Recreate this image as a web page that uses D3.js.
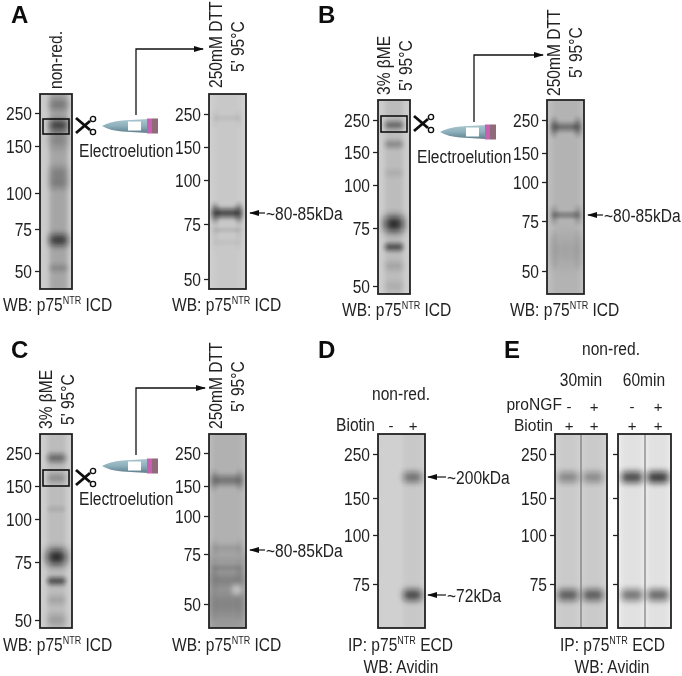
<!DOCTYPE html>
<html>
<head>
<meta charset="utf-8">
<script src="https://cdn.jsdelivr.net/npm/d3@7"></script>
<style>
  body { margin: 0; background: #fff; }
  text { font-family: "Liberation Sans", Arial, sans-serif; fill: #222; }
</style>
</head>
<body>
<svg id="chart"></svg>
<script>
// Marker ticks (kDa)
const ticksFive = [250, 150, 100, 75, 50];
const ticksFour = [250, 150, 100, 75];

const kdaA1 = [285, 207, 165, 119, 109, 67.5, 51.5];
const levelA1 = [0.3, 0.68, 0.22, 0.24, 0.28, 0.7, 0.18];
const kdaA2 = [235, 80.6, 71.8, 65.6];
const levelA2 = [0.05, 0.68, 0.09, 0.04];
const kdaB1 = [231, 170, 116, 77, 65.7, 57.5, 50];
const levelB1 = [0.48, 0.28, 0.08, 0.9, 0.62, 0.13, 0.08];
const kdaB2 = [224, 78.4, 59];
const levelB2 = [0.42, 0.28, 0.1];
const kdaC1 = [231, 170, 113, 77.6, 65.7, 57.5, 50];
const levelC1 = [0.48, 0.26, 0.08, 0.9, 0.62, 0.13, 0.18];
const kdaC2 = [164, 78.5, 67, 60.6, 50];
const levelC2 = [0.36, 0.12, 0.12, 0.18, 0.16];
const kdaD = [191, 70.3];
const levelD = [0.48, 0.68];
const kdaE1 = [191, 70.3];
const levelE1 = [[0.36, 0.34], [0.58, 0.58]]; // rows: bands, columns: lanes
const kdaE2 = [191, 70.3];
const levelE2 = [[0.7, 0.78], [0.5, 0.56]];

// Blot geometry and look
const blots = [
  { x0: 40, x1: 72, y0: 94, y1: 289, tickY: [113, 146, 193, 229, 271], ticks: ticksFive, bg: "#cbcbcb", lanes: [58.5], laneW: 18, kda: kdaA1, level: kdaA1.map((_, i) => [levelA1[i]]), thick: [10, 10, 14, 11, 10, 11, 7], smear: 0.18 },
  { x0: 209, x1: 246, y0: 94, y1: 289, tickY: [114, 147, 180, 224, 279], ticks: ticksFive, bg: "#d0d0d0", lanes: [227], laneW: 28, kda: kdaA2, level: kdaA2.map((_, i) => [levelA2[i]]), thick: [5, 8, 4, 4], smear: 0.03, edge: 0.6 },
  { x0: 378, x1: 410, y0: 100, y1: 294, tickY: [120, 152, 185, 228, 286], ticks: ticksFive, bg: "#cdcdcd", lanes: [394], laneW: 18, kda: kdaB1, level: kdaB1.map((_, i) => [levelB1[i]]), thick: [7, 7, 7, 14, 7, 8, 8], smear: 0.08 },
  { x0: 547, x1: 584, y0: 100, y1: 294, tickY: [120, 153, 182, 221, 271], ticks: ticksFive, bg: "#bfbfbf", lanes: [566], laneW: 28, kda: kdaB2, level: kdaB2.map((_, i) => [levelB2[i]]), thick: [7, 6, 26], smear: 0.06, edge: 0.8 },
  { x0: 40, x1: 72, y0: 434, y1: 628, tickY: [453, 486, 519, 562, 620], ticks: ticksFive, bg: "#cdcdcd", lanes: [56.5], laneW: 18, kda: kdaC1, level: kdaC1.map((_, i) => [levelC1[i]]), thick: [8, 8, 6, 14, 7, 8, 10], smear: 0.08 },
  { x0: 209, x1: 246, y0: 434, y1: 628, tickY: [453, 486, 516, 554, 604], ticks: ticksFive, bg: "#bdbdbd", lanes: [227], laneW: 30, kda: kdaC2, level: kdaC2.map((_, i) => [levelC2[i]]), thick: [9, 7, 5, 10, 20], smear: 0.06, edge: 0.5, bottomFade: 0.12, spot: [51, 0.55] },
  { x0: 378, x1: 425, y0: 434, y1: 628, tickY: [454, 498, 535, 584], ticks: ticksFour, bg: "#d0d0d0", lanes: [412.5], laneW: 18, kda: kdaD, level: kdaD.map((_, i) => [levelD[i]]), thick: [10, 11], smear: 0.03 },
  { x0: 555, x1: 607, y0: 434, y1: 628, tickY: [454, 498, 535, 584], ticks: ticksFour, bg: "#d2d2d2", lanes: [568, 593], laneW: 20, kda: kdaE1, level: levelE1, thick: [10, 11], smear: 0.03, divider: 581 },
  { x0: 618, x1: 671, y0: 434, y1: 628, tickY: [454, 498, 535, 584], ticks: ticksFour, bg: "#ececec", lanes: [632, 658], laneW: 21, kda: kdaE2, level: levelE2, thick: [11, 11], smear: 0.04, divider: 645, noLabels: true },
];

const width = 682;
const height = 676;
const ink = "#222";
const textSize = 19;
const textSqueeze = 0.82;

const svg = d3.select("#chart").attr("width", width).attr("height", height);
const defs = svg.append("defs");

// Blur filters for the soft look of the film, made as they are needed
const blurMade = new Set();
function blurId(s) {
  const key = "blur" + String(Math.round(s * 10));
  if (!blurMade.has(key)) {
    blurMade.add(key);
    defs.append("filter").attr("id", key).attr("filterUnits", "userSpaceOnUse")
      .attr("x", 0).attr("y", 0).attr("width", width).attr("height", height)
      .append("feGaussianBlur").attr("stdDeviation", s);
  }
  return `url(#${key})`;
}

// Tube gradient
const tubeGrad = defs.append("linearGradient").attr("id", "tubeGrad").attr("x1", 0).attr("y1", 0).attr("x2", 0).attr("y2", 1);
tubeGrad.append("stop").attr("offset", 0).attr("stop-color", "#a9c6cf");
tubeGrad.append("stop").attr("offset", 0.5).attr("stop-color", "#8db0bc");
tubeGrad.append("stop").attr("offset", 1).attr("stop-color", "#5f7d8b");

const root = svg.append("g").attr("filter", blurId(0.35));

// Draw the blots
blots.forEach((b, n) => {
  const y = d3.scaleLog().domain(b.ticks).range(b.tickY);
  const g = root.append("g");

  defs.append("clipPath").attr("id", "clip" + n).append("rect")
    .attr("x", b.x0).attr("y", b.y0).attr("width", b.x1 - b.x0).attr("height", b.y1 - b.y0);

  const inner = g.append("g").attr("clip-path", `url(#clip${n})`);
  inner.append("rect").attr("x", b.x0).attr("y", b.y0).attr("width", b.x1 - b.x0).attr("height", b.y1 - b.y0).attr("fill", b.bg);

  if (b.bottomFade) {
    inner.append("rect").attr("x", b.x0 - 10).attr("y", y(75)).attr("width", b.x1 - b.x0 + 20).attr("height", b.y1 - y(75) + 20)
      .attr("fill", "#000").attr("opacity", b.bottomFade).attr("filter", blurId(4));
  }

  b.lanes.forEach((lx, li) => {
    // faint smear down the lane
    inner.append("rect")
      .attr("x", lx - b.laneW / 2).attr("y", b.y0 - 10)
      .attr("width", b.laneW).attr("height", b.y1 - b.y0 + 20)
      .attr("fill", "#000").attr("opacity", b.smear).attr("filter", blurId(2));

    b.kda.forEach((k, i) => {
      const lvl = b.level[i][li];
      const t = b.thick[i];
      inner.append("rect")
        .attr("x", lx - b.laneW / 2).attr("y", y(k) - t / 2)
        .attr("width", b.laneW).attr("height", t).attr("rx", 3)
        .attr("fill", "#111").attr("opacity", lvl).attr("filter", blurId(Math.max(1.6, t * 0.3)));
      if (b.edge) {
        // bands run darker at the lane edges on the eluted gels
        [-1, 1].forEach((side) => {
          inner.append("ellipse")
            .attr("cx", lx + side * (b.laneW / 2 - 2)).attr("cy", y(k))
            .attr("rx", 3).attr("ry", t / 2 + 6)
            .attr("fill", "#111").attr("opacity", lvl * b.edge).attr("filter", blurId(2));
        });
      }
    });
  });

  if (b.spot) {
    // pale bubble on the film
    inner.append("circle").attr("cx", b.lanes[0] + 10).attr("cy", y(b.spot[0]) - 12).attr("r", 5.5)
      .attr("fill", "#e8e8e8").attr("opacity", b.spot[1]).attr("filter", blurId(2.5));
  }

  if (b.divider) {
    inner.append("line").attr("x1", b.divider).attr("x2", b.divider).attr("y1", b.y0).attr("y2", b.y1)
      .attr("stroke", "#666").attr("stroke-width", 1);
  }

  g.append("rect").attr("x", b.x0).attr("y", b.y0).attr("width", b.x1 - b.x0).attr("height", b.y1 - b.y0)
    .attr("fill", "none").attr("stroke", ink).attr("stroke-width", 1.8);

  // Marker axis
  const axis = d3.axisLeft(y).tickValues(b.ticks).tickSize(5).tickSizeOuter(0).tickPadding(3)
    .tickFormat(b.noLabels ? "" : (d) => d);
  const ax = g.append("g").attr("transform", `translate(${b.x0},0)`).call(axis);
  ax.select(".domain").remove();
  ax.selectAll("line").attr("stroke", ink).attr("stroke-width", 1.3);
  ax.selectAll("text")
    .attr("fill", ink)
    .style("font-size", textSize + "px")
    .style("font-family", '"Liberation Sans", Arial, sans-serif')
    .attr("x", -8 / textSqueeze)
    .attr("transform", `scale(${textSqueeze},1)`);
});

// Text helper, the labels in the figure are condensed
function label(str, x, y, opts) {
  const o = opts || {};
  const t = root.append("text")
    .attr("transform", `translate(${x},${y})` + (o.rotate ? " rotate(-90)" : "") + ` scale(${o.sx || textSqueeze},1)`)
    .attr("text-anchor", o.anchor || "start")
    .attr("font-size", o.size || textSize)
    .attr("font-weight", o.bold ? 700 : 400);
  if (o.bold) t.style("fill", "#111");
  t.text(str);
  return t;
}

function supLabel(pre, sup, post, x, y) {
  const t = label("", x, y);
  t.append("tspan").text(pre);
  t.append("tspan").attr("dy", -7).attr("font-size", 11).text(sup);
  t.append("tspan").attr("dy", 7).text(post);
}

// Panel letters
const panelLetters = ["A", "B", "C", "D", "E"];
const letterX = [11, 318, 11, 318, 504];
const letterY = [23, 23, 358, 358, 358];
panelLetters.forEach((l, i) => label(l, letterX[i], letterY[i], { bold: true, size: 24, sx: 1 }));

// Rotated sample labels
label("non-red.", 62, 89, { rotate: true });
label("250mM DTT", 222, 88, { rotate: true });
label("5' 95°C", 244, 72, { rotate: true });
label("3% βME", 390, 95, { rotate: true });
label("5' 95°C", 412, 91, { rotate: true });
label("250mM DTT", 560, 96, { rotate: true });
label("5' 95°C", 582, 78, { rotate: true });
label("3% βME", 52, 429, { rotate: true });
label("5' 95°C", 74, 425, { rotate: true });
label("250mM DTT", 222, 429, { rotate: true });
label("5' 95°C", 244, 412, { rotate: true });

// Electroelution labels
label("Electroelution", 79, 157);
label("Electroelution", 417, 163);
label("Electroelution", 79, 505);

// WB / IP captions
supLabel("WB: p75", "NTR", " ICD", 3, 311);
supLabel("WB: p75", "NTR", " ICD", 172, 311);
supLabel("WB: p75", "NTR", " ICD", 342, 316);
supLabel("WB: p75", "NTR", " ICD", 510, 316);
supLabel("WB: p75", "NTR", " ICD", 3, 651);
supLabel("WB: p75", "NTR", " ICD", 172, 651);
supLabel("IP: p75", "NTR", " ECD", 348, 651);
supLabel("IP: p75", "NTR", " ECD", 560, 651);
label("WB: Avidin", 401, 673, { anchor: "middle" });
label("WB: Avidin", 612, 673, { anchor: "middle" });

// D and E headers
label("non-red.", 401, 400, { anchor: "middle" });
label("non-red.", 611, 355, { anchor: "middle" });
label("30min", 581, 386, { anchor: "middle" });
label("60min", 644, 386, { anchor: "middle" });
label("Biotin", 375, 431, { anchor: "end" });
label("proNGF", 562, 410, { anchor: "end", size: 17, sx: 0.92 });
label("Biotin", 553, 431, { anchor: "end", size: 17, sx: 0.92 });

const signs = [
  ["-", 391, 431], ["+", 413, 431],
  ["-", 569, 412], ["+", 594, 412], ["-", 632, 412], ["+", 658, 412],
  ["+", 569, 431], ["+", 594, 431], ["+", 632, 431], ["+", 658, 431],
];
signs.forEach((s) => label(s[0], s[1], s[2], { anchor: "middle", sx: 1, size: 15 }));

// Arrowhead
defs.append("marker").attr("id", "head").attr("viewBox", "0 0 10 6").attr("refX", 9).attr("refY", 3)
  .attr("markerWidth", 10).attr("markerHeight", 6).attr("markerUnits", "userSpaceOnUse").attr("orient", "auto")
  .append("path").attr("d", "M0,0L10,3L0,6Z").attr("fill", "#111");

// Elbow arrows from the tube to the second gel
const line = d3.line();
[
  [[136, 115], [136, 49], [203, 49]],
  [[474, 122], [474, 55], [543, 55]],
  [[136, 455], [136, 388], [205, 388]],
].forEach((pts) => {
  root.append("path").attr("d", line(pts)).attr("fill", "none").attr("stroke", "#111").attr("stroke-width", 1.3).attr("marker-end", "url(#head)");
});

// Band pointers
[
  [265, 250, 213, "~80-85kDa"],
  [603, 588, 215, "~80-85kDa"],
  [265, 250, 550, "~80-85kDa"],
  [446, 428, 477, "~200kDa"],
  [446, 428, 595, "~72kDa"],
].forEach((p) => {
  root.append("path").attr("d", line([[p[0], p[2]], [p[1], p[2]]])).attr("stroke", "#111").attr("stroke-width", 1.2).attr("marker-end", "url(#head)");
  label(p[3], p[0] + 1, p[2] + 7);
});

// Crop boxes
[[43, 119, 26, 15], [381, 116, 26, 16], [43, 470, 26, 16]].forEach((r) => {
  root.append("rect").attr("x", r[0]).attr("y", r[1]).attr("width", r[2]).attr("height", r[3])
    .attr("fill", "none").attr("stroke", "#111").attr("stroke-width", 1.6);
});

// Scissors
[[75, 116], [413, 114], [75, 468]].forEach((p) => {
  const s = root.append("g").attr("transform", `translate(${p[0]},${p[1]})`);
  s.append("path").attr("d", "M1,2L15,14").attr("stroke", "#111").attr("stroke-width", 2.8);
  s.append("path").attr("d", "M1,17L15,5").attr("stroke", "#111").attr("stroke-width", 2.8);
  s.selectAll("circle").data([3, 16]).enter().append("circle")
    .attr("cx", 18).attr("cy", (d) => d).attr("r", 2.6)
    .attr("fill", "#fff").attr("stroke", "#111").attr("stroke-width", 1.4);
});

// Elution tubes
[[102, 118], [440, 124], [102, 458]].forEach((p) => {
  const t = root.append("g").attr("transform", `translate(${p[0]},${p[1]})`);
  t.append("path").attr("d", "M0,8Q8,3.5 20,2.5L46,1L46,15L20,13.5Q8,12.5 0,8Z").attr("fill", "url(#tubeGrad)");
  t.append("rect").attr("x", 26).attr("y", 3.5).attr("width", 13).attr("height", 9).attr("fill", "#fff");
  t.append("rect").attr("x", 45).attr("y", 0.5).attr("width", 5).attr("height", 15).attr("fill", "#c95fb0");
  t.append("rect").attr("x", 50).attr("y", 0.5).attr("width", 6).attr("height", 15).attr("fill", "#8f6a78");
});
</script>
</body>
</html>
